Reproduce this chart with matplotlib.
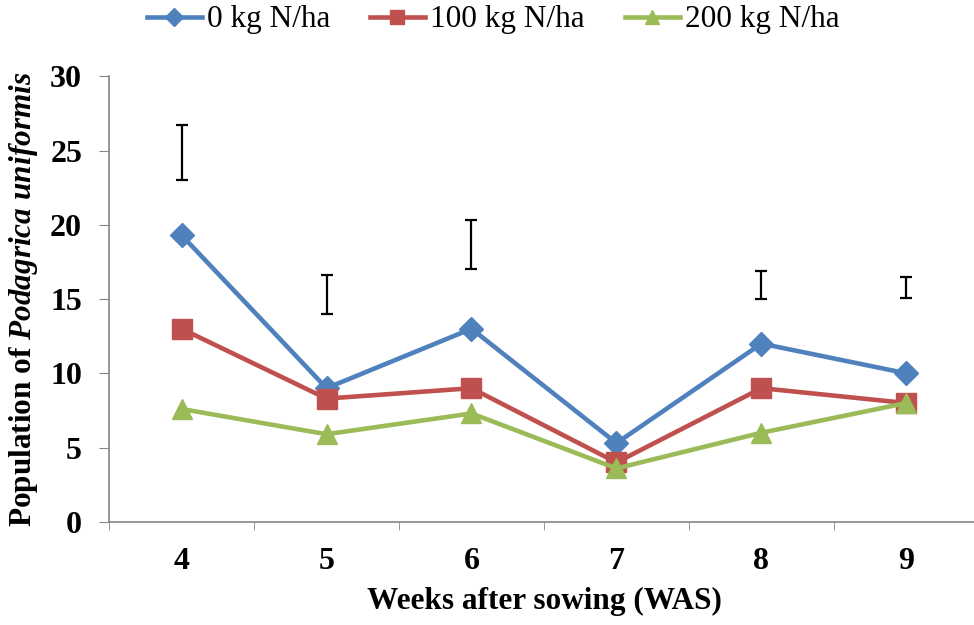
import numpy as np
import matplotlib.pyplot as plt

weeks = ['4', '5', '6', '7', '8', '9']
n0 = [19.3, 9.0, 13.0, 5.3, 12.0, 10.0]
n100 = [13.0, 8.3, 9.0, 4.0, 9.0, 8.0]
n200 = [7.6, 5.9, 7.3, 3.6, 6.0, 8.0]
# LSD bars (bottom, top), none at week 7
lsd_lo = [23.0, 14.0, 17.0, np.nan, 15.0, 15.1]
lsd_hi = [26.7, 16.6, 20.3, np.nan, 16.9, 16.5]

plt.rcParams['font.family'] = 'Liberation Serif'
plt.rcParams['mathtext.fontset'] = 'custom'
plt.rcParams['mathtext.rm'] = 'Liberation Serif:bold'
plt.rcParams['mathtext.it'] = 'Liberation Serif:bold:italic'

fig = plt.figure(figsize=(9.74, 6.25), dpi=100)
ax = fig.add_axes([0.112, 0.165, 0.893, 0.713])

x = np.arange(len(weeks))
ax.plot(x, n0, color='#4F81BD', lw=3.3, marker='D', ms=12, label='0 kg N/ha')
ax.plot(x, n100, color='#C0504D', lw=3.3, marker='s', ms=14, label='100 kg N/ha')
ax.plot(x, n200, color='#9BBB59', lw=3.3, marker='^', ms=14, label='200 kg N/ha')

lo = np.array(lsd_lo)
hi = np.array(lsd_hi)
mid = (lo + hi) / 2
ax.errorbar(x, mid, yerr=(hi - lo) / 2, fmt='none', ecolor='black',
            elinewidth=1.6, capsize=4, capthick=1.6)

ax.set_xlim(-0.5, len(weeks) - 0.5)
ax.set_ylim(0, 30)
ax.set_yticks(range(0, 31, 5))
ax.set_xticks(x)
ax.set_xticklabels(weeks)
ax.set_xticks(np.arange(-0.5, len(weeks)), minor=True)
ax.tick_params(axis='x', which='major', length=0, pad=18)
ax.tick_params(axis='x', which='minor', length=6, color='#868686', direction='out')
ax.tick_params(axis='y', length=7, color='#868686', direction='out', pad=12.5)
for lab in ax.get_xticklabels() + ax.get_yticklabels():
    lab.set_fontsize(23)
    lab.set_fontweight('bold')

for s in ['top', 'right']:
    ax.spines[s].set_visible(False)
for s in ['left', 'bottom']:
    ax.spines[s].set_color('#868686')
    ax.spines[s].set_linewidth(1.2)

ax.set_xlabel('Weeks after sowing (WAS)', fontsize=22.5, fontweight='bold', labelpad=8)
ax.set_ylabel(r'Population of $\mathit{Podagrica\ uniformis}$', fontsize=22.5,
              fontweight='bold', labelpad=7)

fig.legend(loc='center', bbox_to_anchor=(0.506, 1 - 20 / 625), ncol=3, frameon=False,
           fontsize=22.5, handlelength=1.76, columnspacing=1.28, handletextpad=0.16,
           markerscale=0.75)

fig.savefig('out.png', dpi=100)
